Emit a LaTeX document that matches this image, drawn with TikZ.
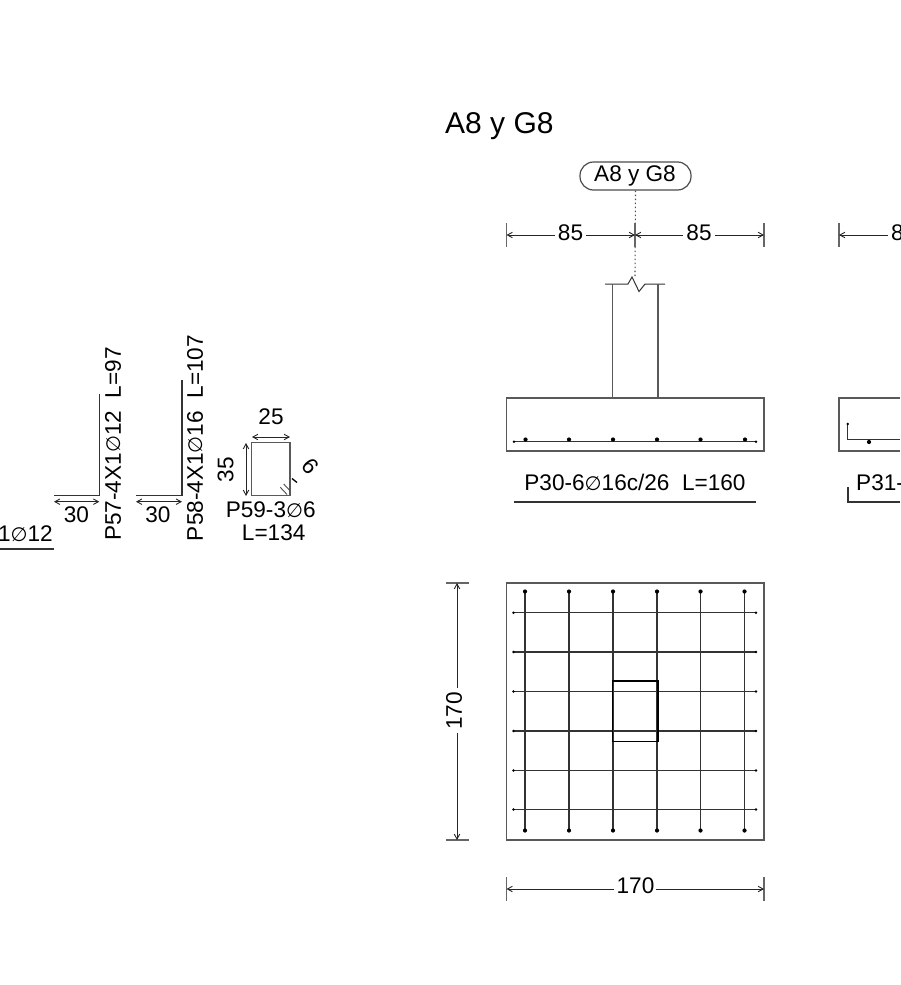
\documentclass[tikz,border=0pt]{standalone}
\usepackage{fontspec}
\setmainfont{Liberation Sans}
\newfontfamily\symf{DejaVu Sans}
\usetikzlibrary{arrows.meta}
\newcommand{\dia}{{\symf\fontsize{19.5}{19.5}\selectfont\char"2205}}
\definecolor{ln}{gray}{0.15}
\tikzset{
  barb/.tip={Straight Barb[length=5pt,width=5.5pt,line width=0.9pt]},
  lbl/.style={inner sep=0pt,font=\fontsize{22.6}{22.6}\selectfont,text=black},
  base/.style={lbl,anchor=base},
  dimline/.style={draw=ln,line width=0.9pt,barb-barb},
  dimhalf/.style={draw=ln,line width=0.9pt},
  tickl/.style={draw=black!60,line width=1.3pt},
  bar/.style={draw=black!80,line width=1.2pt},
  outline/.style={draw=black!65,line width=1.2pt},
  dotm/.style={circle,fill=black,inner sep=0pt,minimum size=4.2pt},
  dots/.style={circle,fill=black,inner sep=0pt,minimum size=2.8pt},
}
\begin{document}
\begin{tikzpicture}[x=1pt,y=-1pt]
\useasboundingbox (0,0) rectangle (900,985);
\clip (0,0) rectangle (900,985);
% title
\node[lbl,anchor=base west,font=\fontsize{30}{30}\selectfont] (title) at (445,133) {A8 y G8};
% axis bubble
\node[draw=black!70,line width=1.2pt,rounded corners=13.5pt,minimum width=111pt,minimum height=28pt,inner sep=0pt] (bubble) at (635.5,176) {};
\node[base] (bubbletxt) at (635,181.5) {A8 y G8};
\coordinate (axb) at (635,277);
\draw[draw=black!70,line width=1.1pt,dash pattern=on 1.5pt off 2.5pt] (bubble.south) -- (axb);
% top dimension
\coordinate (d1a) at (506.5,235); \coordinate (d1b) at (635,235); \coordinate (d1c) at (764,235);
\node[base] (t85a) at (570.5,240.5) {85};
\node[base] (t85b) at (699,240.5) {85};
\draw[tickl] (506.5,223) -- (506.5,247) (635,223) -- (635,247) (764,223) -- (764,247);
\draw[dimhalf,barb-] (d1a) -- (555,235);
\draw[dimhalf,-barb] (586,235) -- (d1b);
\draw[dimhalf,barb-] (d1b) -- (683,235);
\draw[dimhalf,-barb] (715,235) -- (d1c);
% column in section
\draw[bar,line width=1pt] (605,284) -- (628,284) -- (632,277) -- (639,291.5) -- (645,284) -- (665,284);
\draw[outline] (612.5,284) -- (612.5,398) (658,284) -- (658,398);
% footing section
\draw[outline] (506.5,398) rectangle (764,451);
\draw[bar] (514,441.7) -- (756,441.7);
\foreach \x in {525.5,569,613,657,700.5,745} \node[dotm] at (\x,439.5) {};
\node[dots] at (514,441.7) {}; \node[dots] at (756,441.7) {};
\node[base] (p30) at (635,490) {P30-6\dia16c/26\ \ L=160};
\draw[bar] (514,502) -- (756,502);
% second footing (cut by the edge)
\draw[tickl] (839,223) -- (839,247);
\draw[dimhalf,barb-] (839,235) -- (888,235);
\node[lbl,anchor=base west] (t85c) at (891,240.5) {8};
\draw[outline] (900,398) -- (839,398) -- (839,451) -- (900,451);
\draw[bar] (847.7,424) -- (847.7,439.5) -- (900,439.5);
\node[dots] at (847.7,424) {};
\node[dotm] at (869,442) {};
\node[lbl,anchor=base west] (p31) at (856,490) {P31-};
\draw[bar] (848,487) -- (848,502) -- (900,502);
% plan
\draw[outline] (506.5,583) rectangle (764,840);
\foreach \x in {525,569,613,657,700.5,744.5} {
  \draw[bar] (\x,591.5) -- (\x,830.5);
  \node[dotm] at (\x,591.5) {};
  \node[dotm] at (\x,830.5) {};
}
\foreach \y in {612.7,652,691.5,731,770.5,809.5} {
  \draw[bar] (513.5,\y) -- (756,\y);
  \node[dots] at (513.5,\y) {};
  \node[dots] at (756,\y) {};
}
\draw[draw=black,line width=1.1pt] (612.5,681) rectangle (658,741.5);
% plan dimensions
\draw[tickl] (446,583) -- (469,583) (446,840) -- (469,840);
\draw[dimhalf,barb-] (457,583) -- (457,688);
\draw[dimhalf,-barb] (457,733) -- (457,840);
\node[lbl,rotate=90] (t170v) at (454,711) {170};
\draw[tickl] (506.5,877) -- (506.5,901) (764,877) -- (764,901);
\draw[dimhalf,barb-] (506.5,889) -- (614,889);
\draw[dimhalf,-barb] (656,889) -- (764,889);
\node[base] (t170h) at (635.5,893.5) {170};
% left bar details
\node[lbl,anchor=base east] (p56) at (53,541.7) {1\dia12};
\draw[bar] (0,549) -- (54,549);
\draw[bar] (99.3,394) -- (99.3,495.7) -- (54,495.7);
\draw[dimline] (54,501.7) -- (99.3,501.7);
\node[base] (t30a) at (76.5,522.7) {30};
\node[lbl,rotate=90] (p57) at (113,444) {P57-4X1\dia12\ \ L=97};
\draw[bar] (182,380) -- (182,495.7) -- (136,495.7);
\draw[dimline] (136,501.7) -- (182,501.7);
\node[base] (t30b) at (158,522.7) {30};
\node[lbl,rotate=90] (p58) at (195,438) {P58-4X1\dia16\ \ L=107};
% stirrup
\draw[outline] (251.7,442.7) rectangle (290,495.7);
\draw[dimline] (252,437) -- (290,437);
\node[base] (t25) at (271,424) {25};
\draw[dimline] (246,443) -- (246,496);
\node[lbl,rotate=90] (t35) at (225.5,469.5) {35};
\draw[draw=black!70,line width=0.9pt] (283.7,484) -- (290,490.7) (280.3,487.3) -- (287,494.5);
\draw[draw=black,line width=1.3pt] (292,478.5) -- (297,482.5);
\node[lbl,rotate=-50] (t6) at (310,466) {6};
\node[base] (p59) at (270.7,517) {P59-3\dia6};
\node[base] (l134) at (273.7,540) {L=134};
\end{tikzpicture}
\end{document}
